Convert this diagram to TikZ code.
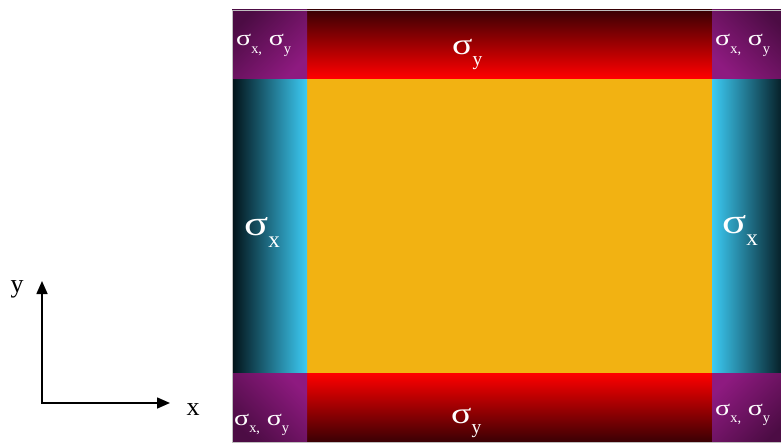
\documentclass[tikz,border=0pt]{standalone}
\usepackage{fontspec}
\setmainfont{Liberation Serif}
\usetikzlibrary{arrows.meta}
\definecolor{orng}{HTML}{F2B212}
\definecolor{cyanL}{HTML}{3CCBF4}
\definecolor{cyanM}{HTML}{2CBCE8}
\definecolor{cyanD}{HTML}{021218}
\definecolor{redB}{HTML}{FF0000}
\definecolor{redM}{HTML}{C80000}
\definecolor{redD}{HTML}{3A0004}
\definecolor{purp}{HTML}{8E1A80}
\definecolor{purpD}{HTML}{4C0C44}
\newcommand\lowsub[1]{\raisebox{-0.38em}{\scalebox{0.72}{#1}}}
\newcommand\sig{\scalebox{1.4}[1.1]{σ}}
\begin{document}
\begin{tikzpicture}[x=1pt,y=-1pt,
  lbl/.style={text=white,inner sep=0pt,anchor=base west},
  cornerlbl/.style={lbl,font=\fontsize{20}{20}\selectfont},
  sidelbl/.style={lbl,font=\fontsize{32}{32}\selectfont},
  toplbl/.style={lbl,font=\fontsize{27}{27}\selectfont},
  axislbl/.style={inner sep=0pt,anchor=base,font=\fontsize{26}{26}\selectfont},
  axis/.style={line width=1.6pt,-{Triangle[length=13pt,width=11pt]}}]
\useasboundingbox (0,0) rectangle (781,444);
\clip (0,0) rectangle (781,444);
% center
\fill[orng] (307,78) rectangle (712,373);
% side strips
\shade[left color=cyanD,middle color=cyanM,right color=cyanL] (232,78) rectangle (307,373);
\shade[left color=cyanL,middle color=cyanM,right color=cyanD] (712,78) rectangle (787,373);
% top / bottom bands
\shade[top color=redD,middle color=redM,bottom color=redB] (307,10) rectangle (712,78);
\shade[top color=redB,middle color=redM,bottom color=redD] (307,373) rectangle (712,442);
% corners
\shade[top color=purpD,bottom color=purp,shading angle=45] (232,10) rectangle (307,78);
\shade[top color=purpD,bottom color=purp,shading angle=-45] (712,10) rectangle (787,78);
\shade[top color=purp,bottom color=purpD,shading angle=-45] (232,373) rectangle (307,442);
\shade[top color=purp,bottom color=purpD,shading angle=45] (712,373) rectangle (787,442);
\draw[black!25,line width=0.6pt] (232,10) rectangle (787,442);
% labels
\node[cornerlbl] (ctl) at (236,46) {\sig\lowsub{x,}\,\,\sig\lowsub{y}};
\node[cornerlbl] (ctr) at (715,46) {\sig\lowsub{x,}\,\,\sig\lowsub{y}};
\node[cornerlbl] (cbl) at (234,425) {\sig\lowsub{x,}\,\,\sig\lowsub{y}};
\node[cornerlbl] (cbr) at (715,415) {\sig\lowsub{x,}\,\,\sig\lowsub{y}};
\node[toplbl] (st) at (452,55) {\sig\lowsub{y}};
\node[toplbl] (sb) at (451,423) {\sig\lowsub{y}};
\node[sidelbl] (sl) at (244,235) {\sig\lowsub{x}};
\node[sidelbl] (sr) at (722,233) {\sig\lowsub{x}};
% axes
\coordinate (o) at (42,403);
\coordinate (ytip) at (42,281);
\coordinate (xtip) at (170,403);
\draw[axis] (o) -- (ytip);
\draw[axis] ([xshift=-0.8pt]o) -- (xtip);
\node[axislbl] (ylab) at (17,292) {y};
\node[axislbl] (xlab) at (193,415) {x};
\end{tikzpicture}
\end{document}
